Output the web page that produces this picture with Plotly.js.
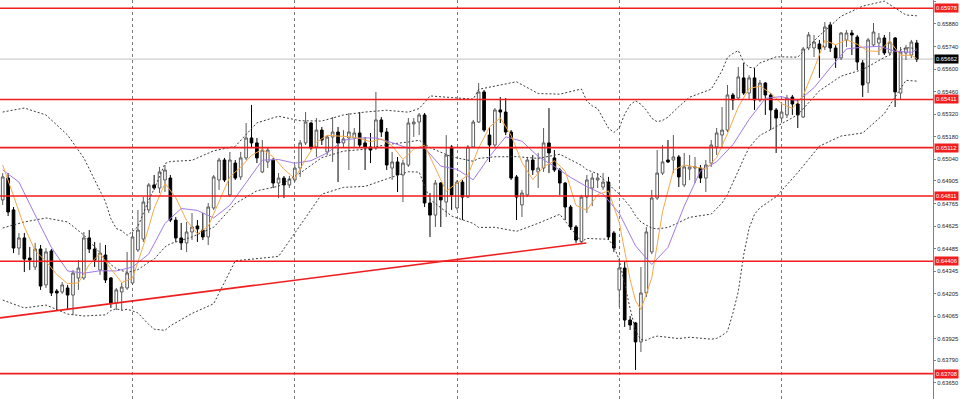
<!DOCTYPE html>
<html><head><meta charset="utf-8">
<script src="https://cdn.plot.ly/plotly-3.0.1.min.js"></script>
<style>html,body{margin:0;padding:0;background:#fff;}#chart{width:960px;height:399px;}</style>
</head><body><div id="chart"></div>
<script>
// ---- candles ----
const candleOpen = [0.64787,0.64923,0.64725,0.64488,0.64551,0.64426,0.64370,0.64482,0.64259,0.64470,
0.64221,0.64215,0.64240,0.64196,0.64302,0.64302,0.64551,0.64482,0.64352,0.64445,
0.64302,0.64147,0.64215,0.64240,0.64271,0.64476,0.64544,0.64725,0.64880,0.64861,
0.64911,0.64923,0.64662,0.64551,0.64520,0.64588,0.64625,0.64600,0.64557,0.64737,
0.64911,0.65035,0.64818,0.65016,0.64930,0.65048,0.65172,0.65141,0.64961,0.65023,
0.65035,0.64892,0.64923,0.64880,0.64911,0.64985,0.65141,0.65265,0.65116,0.65221,
0.65085,0.65178,0.65209,0.65141,0.65172,0.65172,0.65203,0.65141,0.65116,0.65110,
0.65284,0.65209,0.64985,0.65023,0.64942,0.65004,0.65259,0.65271,0.65315,0.64768,
0.64693,0.64892,0.64774,0.65116,0.64737,0.64898,0.64805,0.65116,0.65271,0.65458,
0.65190,0.65128,0.65346,0.65333,0.65209,0.64930,0.64756,0.64818,0.65035,0.64961,
0.64985,0.65141,0.65048,0.64973,0.64892,0.64743,0.64619,0.64526,0.64805,0.64861,
0.64911,0.64867,0.64898,0.64582,0.64228,0.64364,0.64041,0.64023,0.63905,0.64209,
0.64464,0.64799,0.64954,0.65035,0.65035,0.65054,0.64880,0.64979,0.64985,0.64985,
0.64923,0.65016,0.65116,0.65190,0.65221,0.65439,0.65420,0.65545,0.65451,0.65545,
0.65408,0.65513,0.65439,0.65346,0.65296,0.65315,0.65426,0.65383,0.65302,0.65731,
0.65731,0.65756,0.65737,0.65874,0.65731,0.65669,0.65781,0.65824,0.65799,0.65638,
0.65513,0.65750,0.65762,0.65793,0.65700,0.65793,0.65451,0.65700,0.65687,0.65762];
const candleHigh = [0.64954,0.64954,0.64743,0.64582,0.64582,0.64495,0.64520,0.64507,0.64488,0.64482,
0.64234,0.64277,0.64259,0.64352,0.64414,0.64588,0.64600,0.64526,0.64520,0.64507,
0.64308,0.64240,0.64271,0.64464,0.64588,0.64725,0.64805,0.64892,0.64942,0.64992,
0.65004,0.64942,0.64681,0.64644,0.64650,0.64706,0.64662,0.64706,0.64768,0.64942,
0.65048,0.65048,0.65085,0.65035,0.65085,0.65265,0.65377,0.65172,0.65159,0.65116,
0.65048,0.64954,0.64936,0.64936,0.65004,0.65159,0.65333,0.65271,0.65296,0.65240,
0.65190,0.65302,0.65240,0.65221,0.65327,0.65234,0.65333,0.65178,0.65203,0.65458,
0.65302,0.65234,0.65085,0.65054,0.65035,0.65296,0.65296,0.65327,0.65327,0.64830,
0.64911,0.64898,0.65190,0.65128,0.64911,0.64911,0.65128,0.65284,0.65513,0.65470,
0.65240,0.65358,0.65426,0.65420,0.65221,0.64942,0.64849,0.65048,0.65066,0.65079,
0.65234,0.65358,0.65097,0.64985,0.64898,0.64756,0.64631,0.64818,0.64942,0.64954,
0.64954,0.64954,0.64930,0.64594,0.64414,0.64402,0.64066,0.64029,0.64370,0.64619,
0.64849,0.65097,0.65128,0.65159,0.65190,0.65066,0.65079,0.65066,0.65054,0.65004,
0.65035,0.65159,0.65234,0.65364,0.65501,0.65451,0.65613,0.65638,0.65563,0.65607,
0.65532,0.65520,0.65451,0.65358,0.65377,0.65439,0.65439,0.65408,0.65737,0.65830,
0.65812,0.65781,0.65892,0.65892,0.65750,0.65830,0.65843,0.65843,0.65812,0.65656,
0.65793,0.65886,0.65824,0.65812,0.65830,0.65799,0.65737,0.65750,0.65781,0.65781];
const candleLow = [0.64756,0.64687,0.64457,0.64445,0.64339,0.64352,0.64352,0.64228,0.64240,0.64190,
0.64103,0.64203,0.64103,0.64072,0.64228,0.64290,0.64457,0.64370,0.64321,0.64271,
0.64116,0.64103,0.64103,0.64228,0.64259,0.64464,0.64526,0.64706,0.64849,0.64830,
0.64836,0.64650,0.64526,0.64476,0.64464,0.64538,0.64526,0.64538,0.64507,0.64725,
0.64849,0.64898,0.64805,0.64911,0.64911,0.65035,0.65116,0.65016,0.64954,0.64985,
0.64861,0.64799,0.64799,0.64861,0.64898,0.64930,0.65128,0.65097,0.65054,0.65128,
0.65066,0.65023,0.64898,0.65116,0.64973,0.65116,0.65110,0.64973,0.65016,0.65097,
0.65178,0.64973,0.64911,0.64836,0.64774,0.64992,0.65178,0.65190,0.64743,0.64557,
0.64619,0.64619,0.64681,0.64725,0.64725,0.64662,0.64799,0.65110,0.65265,0.65209,
0.65023,0.65116,0.65265,0.65190,0.64911,0.64662,0.64681,0.64805,0.64942,0.64861,
0.64961,0.64954,0.64961,0.64818,0.64662,0.64600,0.64520,0.64520,0.64706,0.64749,
0.64861,0.64849,0.64538,0.64464,0.64122,0.63998,0.63979,0.63731,0.63842,0.64184,
0.64451,0.64787,0.64942,0.65016,0.64954,0.64867,0.64867,0.64911,0.64892,0.64892,
0.64836,0.64992,0.65066,0.65110,0.65209,0.65346,0.65408,0.65439,0.65408,0.65346,
0.65395,0.65315,0.65221,0.65079,0.65271,0.65296,0.65315,0.65234,0.65296,0.65718,
0.65675,0.65545,0.65718,0.65706,0.65607,0.65656,0.65737,0.65687,0.65594,0.65426,
0.65451,0.65737,0.65687,0.65687,0.65687,0.65364,0.65408,0.65656,0.65669,0.65644];
const candleClose = [0.64930,0.64712,0.64488,0.64551,0.64420,0.64414,0.64482,0.64252,0.64464,0.64209,
0.64209,0.64259,0.64196,0.64333,0.64364,0.64551,0.64482,0.64414,0.64457,0.64290,
0.64147,0.64228,0.64246,0.64333,0.64557,0.64600,0.64774,0.64880,0.64861,0.64961,
0.64973,0.64662,0.64551,0.64520,0.64588,0.64619,0.64607,0.64557,0.64743,0.64930,
0.65035,0.64911,0.65035,0.64923,0.65048,0.65172,0.65141,0.65048,0.65097,0.65097,
0.64892,0.64923,0.64880,0.64917,0.64985,0.65141,0.65271,0.65110,0.65221,0.65159,
0.65178,0.65209,0.65141,0.65166,0.65209,0.65203,0.65128,0.65110,0.65097,0.65284,
0.65209,0.65004,0.65023,0.64942,0.65016,0.65265,0.65271,0.65315,0.64768,0.64693,
0.64892,0.64787,0.65066,0.64818,0.64898,0.64805,0.65116,0.65271,0.65458,0.65221,
0.65128,0.65346,0.65333,0.65209,0.64923,0.64805,0.64830,0.65035,0.64973,0.64985,
0.65141,0.65079,0.64973,0.64892,0.64743,0.64619,0.64538,0.64805,0.64911,0.64923,
0.64923,0.64898,0.64557,0.64488,0.64364,0.64041,0.64010,0.63905,0.64209,0.64588,
0.64799,0.64954,0.65023,0.65023,0.65054,0.64930,0.64992,0.64992,0.64992,0.64923,
0.65004,0.65128,0.65203,0.65221,0.65439,0.65408,0.65551,0.65451,0.65545,0.65408,
0.65513,0.65439,0.65346,0.65296,0.65333,0.65420,0.65383,0.65315,0.65725,0.65812,
0.65768,0.65725,0.65861,0.65731,0.65669,0.65824,0.65824,0.65812,0.65644,0.65501,
0.65781,0.65830,0.65793,0.65700,0.65768,0.65458,0.65706,0.65731,0.65768,0.65662];

// ---- fast MA (orange) ----
const fastIdx = [0,2,4,6,8,10,12,14,16,18,20,22,24,26,28,30,32,34,36,38,40,42,44,46,48,50,52,54,56,58,60,62,64,66,68,70,72,74,76,78,80,82,84,86,88,90,92,94,96,98,100,102,104,106,108,110,112,114,116,117,118,120,122,124,126,128,130,132,134,136,138,140,142,144,146,148,150,152,154,156,158,160,162,164,166,168,169];
const fastMA = [0.65004,0.64818,0.64620,0.64471,0.64406,0.64323,0.64267,0.64272,0.64385,0.64454,
0.64358,0.64273,0.64302,0.64502,0.64734,0.64890,0.64801,0.64659,0.64577,0.64623,
0.64774,0.64931,0.64990,0.65064,0.65101,0.65055,0.64978,0.64920,0.65039,0.65146,
0.65188,0.65182,0.65180,0.65169,0.65149,0.65166,0.65123,0.65039,0.65103,0.65127,
0.64988,0.64841,0.64892,0.64941,0.65110,0.65239,0.65297,0.65188,0.65020,0.64913,
0.64993,0.65030,0.64966,0.64753,0.64723,0.64820,0.64843,0.64646,0.64292,0.64162,0.64106,
0.64302,0.64715,0.64971,0.65004,0.64992,0.64980,0.65050,0.65199,0.65364,0.65479,0.65494,0.65450,0.65385,0.65356,0.65435,0.65600,0.65778,0.65751,0.65782,0.65754,0.65712,0.65710,0.65774,0.65685,0.65686,0.65665];

// ---- slow MA (purple) ----
const slowIdx = [0,3,6,9,12,15,18,21,24,27,30,33,36,39,42,45,48,51,54,57,60,63,66,69,72,75,78,81,84,87,90,93,96,99,102,105,108,111,114,117,120,123,126,129,132,135,138,141,144,147,150,153,156,159,162,165,168,169];
const slowMA = [0.64973,0.64898,0.64693,0.64492,0.64346,0.64332,0.64347,0.64346,0.64370,0.64451,
0.64641,0.64734,0.64722,0.64675,0.64754,0.64896,0.65034,0.65038,0.65015,0.65031,
0.65079,0.65158,0.65172,0.65172,0.65143,0.65108,0.65110,0.64997,0.64977,0.64912,
0.65057,0.65179,0.65152,0.65057,0.64995,0.64927,0.64869,0.64823,0.64703,0.64502,
0.64386,0.64492,0.64748,0.64968,0.65024,0.65130,0.65287,0.65418,0.65429,0.65400,
0.65484,0.65607,0.65725,0.65736,0.65741,0.65711,0.65704,0.65720];

// ---- bands (dotted) ----
const bandIdx = [0,4,8,12,15,19,20,21,22,23,24,25,27,28,30,31,35,39,43,47,51,55,59,63,67,71,75,77,78,79,83,87,88,91,95,99,103,107,108,109,110,112,113,114,115,116,117,118,119,120,121,122,123,125,127,131,132,133,134,135,136,137,138,139,140,143,147,151,155,159,163,167,169];
const bandUpper = [0.65333,0.65358,0.65315,0.65190,0.65048,0.64775,0.64670,0.64610,0.64596,0.64567,0.64590,0.64622,
0.64786,0.64855,0.65013,0.65026,0.65033,0.65092,0.65120,0.65266,0.65307,0.65279,0.65277,0.65315,0.65333,0.65344,0.65332,0.65355,0.65392,
0.65433,0.65423,0.65413,0.65474,0.65493,0.65521,0.65448,0.65444,0.65476,0.65401,0.65371,0.65354,
0.65233,0.65206,0.65235,0.65320,0.65377,0.65403,0.65381,0.65345,0.65294,0.65273,0.65281,0.65301,
0.65367,0.65425,0.65475,0.65534,0.65590,0.65672,0.65697,0.65715,0.65642,0.65611,0.65606,0.65638,
0.65676,0.65674,0.65808,0.65928,0.65991,0.66022,0.65936,0.65931];
const bandMiddle = [0.64613,0.64650,0.64675,0.64650,0.64569,0.64424,0.64385,0.64360,0.64348,0.64337,0.64344,0.64354,
0.64400,0.64419,0.64495,0.64515,0.64557,0.64617,0.64764,0.64844,0.64872,0.64954,0.65050,0.65090,0.65102,0.65131,0.65147,0.65158,0.65135,
0.65112,0.65055,0.65027,0.65045,0.65055,0.65056,0.65045,0.65071,0.65002,0.64975,0.64960,0.64949,
0.64888,0.64852,0.64824,0.64786,0.64745,0.64689,0.64650,0.64630,0.64613,0.64607,0.64610,0.64616,
0.64647,0.64679,0.64699,0.64731,0.64768,0.64821,0.64890,0.64967,0.65044,0.65111,0.65152,0.65188,
0.65242,0.65316,0.65465,0.65556,0.65597,0.65672,0.65733,0.65728];
const bandLower = [0.64165,0.64116,0.64134,0.64078,0.64066,0.64073,0.64100,0.64111,0.64101,0.64108,0.64098,0.64085,
0.64013,0.63984,0.63977,0.64005,0.64082,0.64142,0.64409,0.64422,0.64436,0.64629,0.64823,0.64865,0.64871,0.64918,0.64962,0.64960,0.64877,
0.64790,0.64687,0.64641,0.64616,0.64617,0.64592,0.64642,0.64698,0.64528,0.64548,0.64548,0.64545,
0.64543,0.64498,0.64413,0.64252,0.64113,0.63974,0.63919,0.63915,0.63932,0.63941,0.63938,0.63931,
0.63926,0.63934,0.63922,0.63927,0.63945,0.63971,0.64083,0.64218,0.64446,0.64611,0.64698,0.64738,
0.64807,0.64957,0.65121,0.65184,0.65203,0.65323,0.65530,0.65525];

// ---- drawn objects ----
const levels = [0.65978, 0.65411, 0.65112, 0.64811, 0.64406, 0.63708];
const levelLabels = ['0.65978','0.65411','0.65112','0.64811','0.64406','0.63708'];
const lastPrice = 0.65662;
const lastPriceLabel = '0.65662';
const trendIdx = [-0.5, 107.9];
const trendPrice = [0.64054, 0.64520];
const gridIdx = [24, 54, 84, 114, 144];

const yTickVals = [0.66020,0.65880,0.65740,0.65600,0.65460,0.65320,0.65180,0.65040,0.64905,0.64765,0.64625,0.64485,0.64345,0.64205,0.64065,0.63925,0.63790,0.63650];
const yTickText = ['0.66020','0.65880','0.65740','0.65600','0.65460','0.65320','0.65180','0.65040','0.64905','0.64765','0.64625','0.64485','0.64345','0.64205','0.64065','0.63925','0.63790','0.63650'];

const idx = candleOpen.map((_, i) => i);

const traces = [
  {type:'candlestick', x: idx, open: candleOpen, high: candleHigh, low: candleLow, close: candleClose,
   increasing:{line:{color:'#5a5a5a', width:1}, fillcolor:'#ffffff'},
   decreasing:{line:{color:'#000000', width:1}, fillcolor:'#000000'},
   whiskerwidth:0, hoverinfo:'skip', showlegend:false},
  {type:'scatter', mode:'lines', x: bandIdx, y: bandUpper, line:{color:'#3c3c3c', width:1, dash:'2px,2px'}, hoverinfo:'skip', showlegend:false},
  {type:'scatter', mode:'lines', x: bandIdx, y: bandMiddle, line:{color:'#3c3c3c', width:1, dash:'2px,2px'}, hoverinfo:'skip', showlegend:false},
  {type:'scatter', mode:'lines', x: bandIdx, y: bandLower, line:{color:'#3c3c3c', width:1, dash:'2px,2px'}, hoverinfo:'skip', showlegend:false},
  {type:'scatter', mode:'lines', x: slowIdx, y: slowMA, line:{color:'#a27ae6', width:1}, hoverinfo:'skip', showlegend:false},
  {type:'scatter', mode:'lines', x: fastIdx, y: fastMA, line:{color:'#f5a94a', width:1}, hoverinfo:'skip', showlegend:false},
  {type:'scatter', mode:'lines', x: trendIdx, y: trendPrice, line:{color:'#f01e1e', width:1.6}, hoverinfo:'skip', showlegend:false}
];

const shapes = [
  {type:'line', xref:'paper', x0:0, x1:1, yref:'y', y0:lastPrice, y1:lastPrice, line:{color:'#c0c0c0', width:1}, layer:'below'}
].concat(levels.map(v => ({type:'line', xref:'paper', x0:0, x1:1, yref:'y', y0:v, y1:v, line:{color:'#f01e1e', width:1.6}, layer:'above'})));

const lblFont = 'Liberation Sans, Arial, sans-serif';
const annFont = {family: lblFont, size:5.8, color:'#ffffff'};
const annotations = levels.map((v, k) => ({xref:'paper', x:1, xanchor:'left', xshift:1, yref:'y', y:v, yanchor:'middle',
  text: levelLabels[k], showarrow:false, bgcolor:'#f01e1e', font: annFont, borderpad:1}))
  .concat([{xref:'paper', x:1, xanchor:'left', xshift:1, yref:'y', y:lastPrice, yanchor:'middle',
  text: lastPriceLabel, showarrow:false, bgcolor:'#000000', font: annFont, borderpad:1}]);

const layout = {
  width:960, height:399,
  margin:{l:0, r:27, t:0, b:0, pad:0},
  paper_bgcolor:'#ffffff', plot_bgcolor:'#ffffff',
  showlegend:false,
  font:{family: lblFont, size:5.8, color:'#222'},
  xaxis:{range:[-0.5, 172], rangeslider:{visible:false}, showticklabels:false, ticks:'',
    tickvals: gridIdx, showgrid:true, gridcolor:'#7a7a7a', gridwidth:1, griddash:'dot',
    zeroline:false, showline:false, fixedrange:true},
  yaxis:{side:'right', range:[0.635504, 0.66029], tickvals:yTickVals, ticktext:yTickText,
    ticks:'outside', ticklen:2, tickcolor:'#808080', tickwidth:1, showline:true, linecolor:'#808080', linewidth:1,
    showgrid:false, zeroline:false, fixedrange:true, automargin:false,
    tickfont:{family: lblFont, size:5.8, color:'#222'}},
  shapes: shapes,
  annotations: annotations
};

Plotly.newPlot('chart', traces, layout, {staticPlot:true, displayModeBar:false});
</script>
</body></html>
